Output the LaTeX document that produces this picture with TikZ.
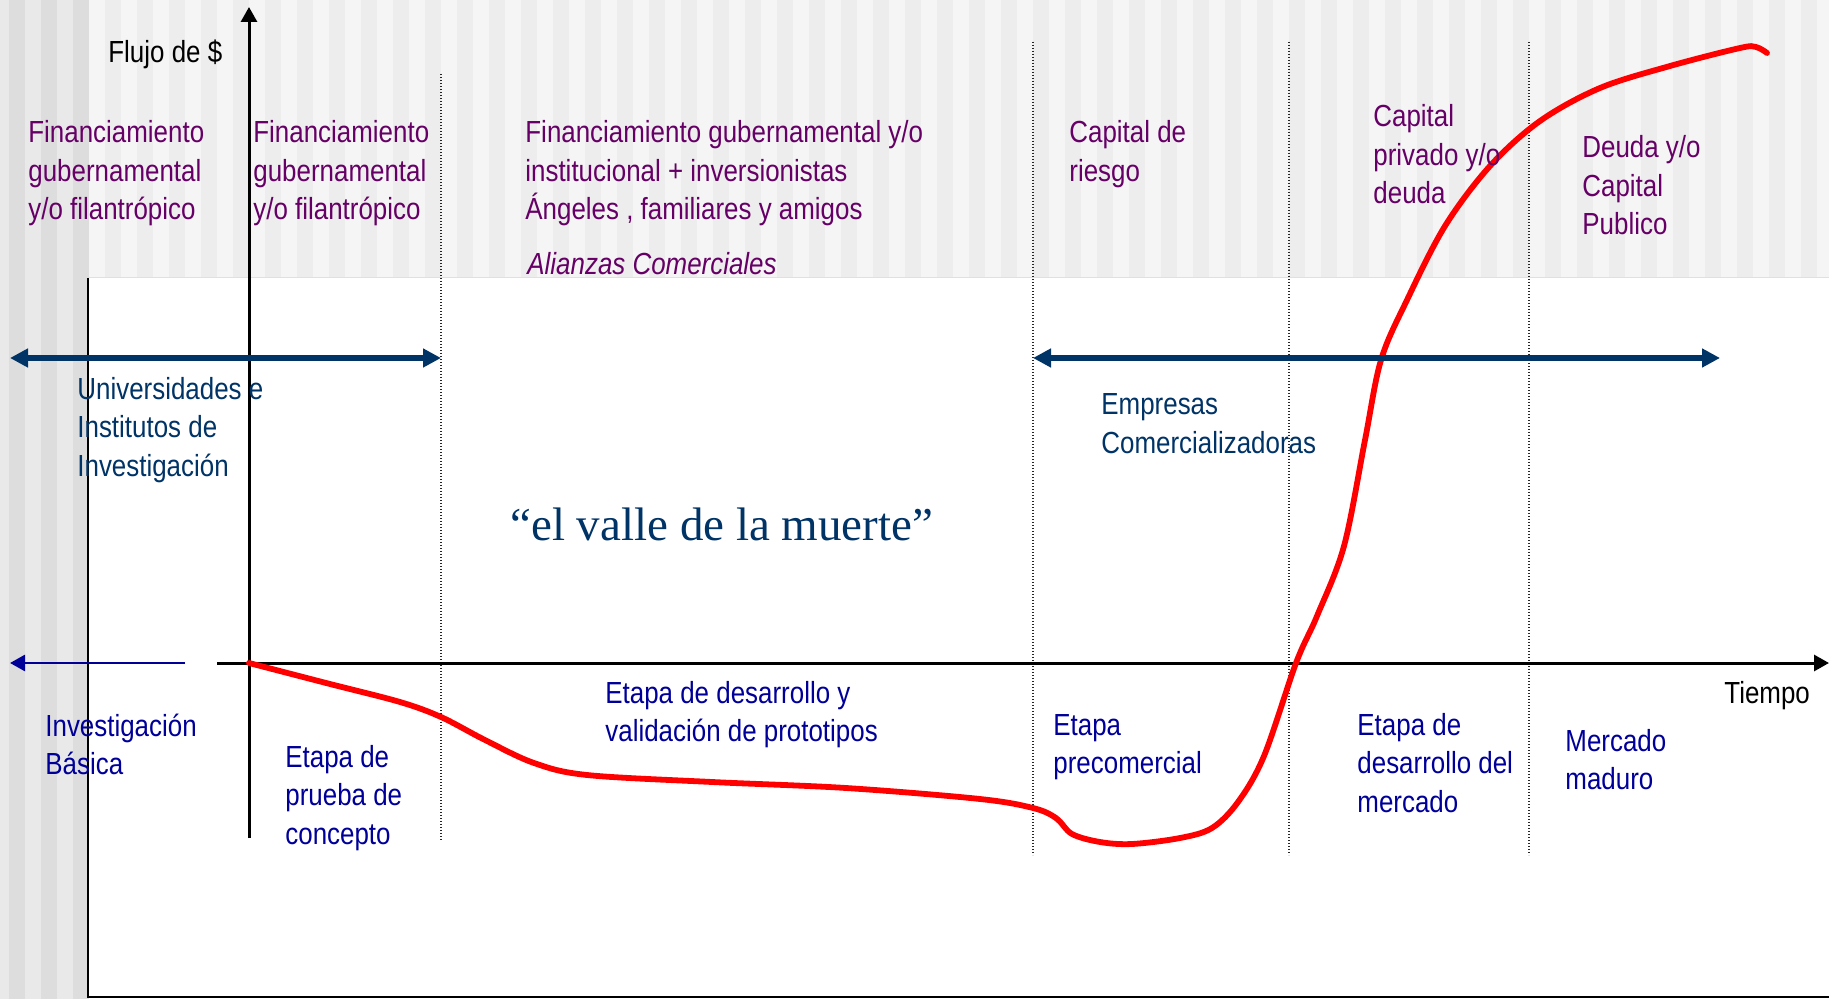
\documentclass[tikz,border=0pt]{standalone}
\usepackage{fontspec}
\setmainfont[FakeStretch=0.85]{Liberation Sans}
\newfontfamily\vallefont{Liberation Serif}
\usetikzlibrary{arrows.meta}
\definecolor{purp}{RGB}{102,0,102}
\definecolor{navy}{RGB}{0,51,102}
\definecolor{stageblue}{RGB}{0,0,153}
\definecolor{stripeL}{RGB}{233,233,233}
\definecolor{stripeD}{RGB}{221,221,221}
\definecolor{bandL}{RGB}{245,245,245}
\definecolor{bandD}{RGB}{237,237,237}
\begin{document}
\begin{tikzpicture}[x=0.5pt,y=-0.5pt,
  lbl/.style={anchor=base west, inner sep=0pt, align=left, font=\fontsize{15.25}{19.25}\selectfont},
  fund/.style={lbl, text=purp},
  actor/.style={lbl, text=navy},
  stage/.style={lbl, text=stageblue},
  axislbl/.style={lbl, text=black},
  sepline/.style={line width=0.6pt, black!85, dash pattern=on 0.7pt off 0.8pt},
  axisline/.style={line width=1.5pt, -{Triangle[length=7.5pt,width=8pt]}},
  spanarrow/.style={line width=3pt, navy, {Triangle[length=9pt,width=9pt]}-{Triangle[length=9pt,width=9pt]}},
  backarrow/.style={line width=1.35pt, stageblue, -{Triangle[length=7.5pt,width=8pt]}},
  flowcurve/.style={line width=2.9pt, red, line cap=round, line join=round}]
\useasboundingbox (0,0) rectangle (1829,999);
% background stripes
\fill[stripeL] (0,0) rectangle (89,999);
\foreach \k in {0,2,4} \fill[stripeD] ({9+16*\k},0) rectangle ({25+16*\k},999);
\fill[bandL] (89,0) rectangle (1829,278);
\foreach \k in {6,8,...,112} \fill[bandD] ({9+16*\k},0) rectangle ({25+16*\k},278);
\draw[black!12, line width=0.5pt] (89,278) -- (1829,278);
% frame
\coordinate (frameTL) at (88,278);
\coordinate (frameBL) at (88,997);
\coordinate (frameBR) at (1829,997);
\draw[line width=0.9pt] (frameTL) -- (frameBL) -- (frameBR);
% stage separators
\coordinate (s1t) at (441,74);   \coordinate (s1b) at (441,840);
\coordinate (s2t) at (1033,42);  \coordinate (s2b) at (1033,855);
\coordinate (s3t) at (1289,42);  \coordinate (s3b) at (1289,855);
\coordinate (s4t) at (1529,42);  \coordinate (s4b) at (1529,855);
\draw[sepline] (s1t) -- (s1b);
\draw[sepline] (s2t) -- (s2b);
\draw[sepline] (s3t) -- (s3b);
\draw[sepline] (s4t) -- (s4b);
% axes
\coordinate (yaxB) at (249,838); \coordinate (yaxT) at (249,7);
\coordinate (xaxL) at (217,663); \coordinate (xaxR) at (1829,663);
\draw[axisline] (yaxB) -- (yaxT);
\draw[axisline] (xaxL) -- (xaxR);
\coordinate (bA) at (185,663); \coordinate (bB) at (10,663);
\draw[backarrow] (bA) -- (bB);
% cash flow curve
\draw[flowcurve] plot[smooth, tension=0.55] coordinates {
 (249,663) (330,684) (400,702) (441,717) (485,740) (534,763) (587,775)
 (712,782) (846,788) (980,799) (1033,808) (1056,818) (1072,834) (1100,842)
 (1132,844) (1180,838) (1212,828) (1238,802) (1264,756) (1296,663)
 (1317,616) (1344,546) (1365,440) (1381,360) (1407,300) (1445,226)
 (1490,166) (1540,121) (1600,88) (1670,66) (1740,48) (1756,47) (1767,53)};
% actor spans
\coordinate (uA) at (10,358);   \coordinate (uB) at (441,358);
\coordinate (eA) at (1033,358); \coordinate (eB) at (1720,358);
\draw[spanarrow] (uA) -- (uB);
\draw[spanarrow] (eA) -- (eB);
% labels (anchored at the baseline of their last line)
\node[axislbl] (flujo) at (108,63) {Flujo de \$};
\node[axislbl] (tiempo) at (1724,703) {Tiempo};
\node[fund] (f1) at (28,220) {Financiamiento\\gubernamental\\y/o filantrópico};
\node[fund] (f2) at (253,220) {Financiamiento\\gubernamental\\y/o filantrópico};
\node[fund] (f3) at (525,220) {Financiamiento gubernamental y/o\\institucional + inversionistas\\Ángeles , familiares y amigos};
\node[fund, font=\fontsize{15.25}{19.25}\selectfont\itshape] (f3b) at (527,275) {Alianzas Comerciales};
\node[fund] (f4) at (1069,181.5) {Capital de\\riesgo};
\node[fund] (f5) at (1373,204) {Capital\\privado y/o\\deuda};
\node[fund] (f6) at (1582,235) {Deuda y/o\\Capital\\Publico};
\node[actor] (univ) at (77,476) {Universidades e\\Institutos de\\Investigación};
\node[actor] (emp) at (1101,453.5) {Empresas\\Comercializadoras};
\node[anchor=base west, inner sep=0pt, text=navy, font=\vallefont\fontsize{23.5}{28}\selectfont] (valle) at (510,540) {“el valle de la muerte”};
\node[stage] (st0) at (45,774.5) {Investigación\\Básica};
\node[stage] (st1) at (285,844) {Etapa de\\prueba de\\concepto};
\node[stage] (st2) at (605,741.5) {Etapa de desarrollo y\\validación de prototipos};
\node[stage] (st3) at (1053,773.5) {Etapa\\precomercial};
\node[stage] (st4) at (1357,812) {Etapa de\\desarrollo del\\mercado};
\node[stage] (st5) at (1565,789.5) {Mercado\\maduro};
\end{tikzpicture}
\end{document}
